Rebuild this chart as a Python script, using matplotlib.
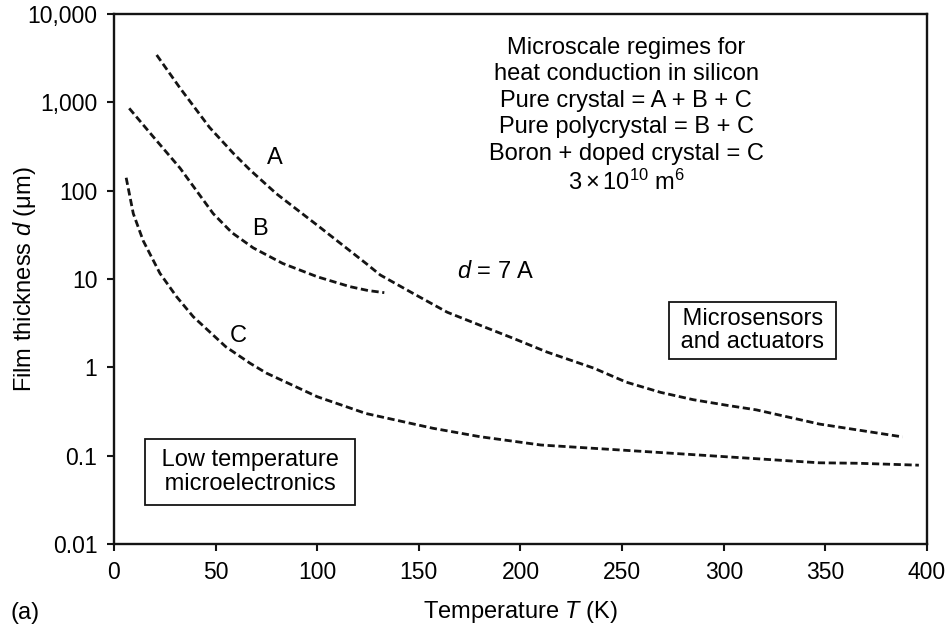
import matplotlib
matplotlib.use('Agg')
import matplotlib.pyplot as plt

plt.rcParams['font.family'] = ['Liberation Sans', 'DejaVu Sans']
plt.rcParams['mathtext.fontset'] = 'custom'
plt.rcParams['mathtext.rm'] = 'Liberation Sans'
plt.rcParams['mathtext.it'] = 'Liberation Sans:italic'

# curve A (pure crystal)
tA = [21, 32.5, 47, 58.7, 67, 80, 101, 124, 131, 147, 164, 180, 196, 213, 236, 252, 269, 285, 302, 316, 347, 388]
dA = [3435, 1450, 520, 265, 171, 92, 39, 15, 11.1, 6.9, 4.2, 3.0, 2.15, 1.49, 0.98, 0.68, 0.52, 0.43, 0.37, 0.33, 0.228, 0.163]

# curve B (pure polycrystal)
tB = [7.5, 19.3, 32.5, 48.8, 58, 68.5, 83, 100, 116, 125, 133]
dB = [855, 408, 180, 55, 33.5, 22.5, 15, 10.6, 8.2, 7.4, 7.0]

# curve C (boron doped crystal)
tC = [6, 9.5, 14.4, 22.6, 30.8, 39, 47, 55, 67, 75, 100, 124, 157, 180, 210, 262, 314, 347, 366, 396]
dC = [140, 55, 27, 11.6, 6.3, 3.74, 2.53, 1.71, 1.11, 0.86, 0.465, 0.30, 0.204, 0.164, 0.132, 0.111, 0.093, 0.083, 0.082, 0.078]

yticks = [0.01, 0.1, 1, 10, 100, 1000, 10000]
yticklabels = ['0.01', '0.1', '1', '10', '100', '1,000', '10,000']
xticks = [0, 50, 100, 150, 200, 250, 300, 350, 400]

fig = plt.figure(figsize=(9.53, 6.27), dpi=100)
ax = fig.add_axes([0.1196, 0.1324, 0.8531, 0.8453])

ink = '#141414'
for t, d in [(tA, dA), (tB, dB), (tC, dC)]:
    ax.plot(t, d, color=ink, lw=2.0, dashes=(2.6, 1.3))

ax.set_yscale('log')
ax.set_xlim(0, 400)
ax.set_ylim(0.01, 10000)
ax.set_yticks(yticks)
ax.set_yticklabels(yticklabels)
ax.minorticks_off()
ax.set_xticks(xticks)
ax.tick_params(direction='out', length=5, width=1.5, labelsize=16.5, pad=7, color=ink)
for s in ax.spines.values():
    s.set_linewidth(1.7)
    s.set_color(ink)

ax.set_xlabel('Temperature $T$ (K)', fontsize=17)
ax.set_ylabel('Film thickness $d$ (μm)', fontsize=17)
ax.xaxis.set_label_coords(0.5, -0.104)
ax.yaxis.set_label_coords(-0.093, 0.5)

# curve labels
ax.text(79, 234, 'A', fontsize=17, ha='center', va='center')
ax.text(72, 37, 'B', fontsize=17, ha='center', va='center')
ax.text(61, 2.26, 'C', fontsize=17, ha='center', va='center')
ax.text(168.7, 12, '$d$ = 7 A', fontsize=17, ha='left', va='center')

ax.text(252, 700, 'Microscale regimes for\nheat conduction in silicon\nPure crystal = A + B + C\n'
        'Pure polycrystal = B + C\nBoron + doped crystal = C\n$3\\times10^{10}\\ \\mathrm{m}^{6}$',
        fontsize=17, ha='center', va='center', linespacing=1.26)

box = dict(boxstyle='square,pad=0.42', fc='white', ec=ink, lw=1.3)
ax.text(66.9, 0.0653, ' Low temperature \n microelectronics ', fontsize=17,
        ha='center', va='center', bbox=box, linespacing=1.1)
box2 = dict(boxstyle='square,pad=0.22', fc='white', ec=ink, lw=1.3)
ax.text(314.3, 2.61, ' Microsensors \n and actuators ', fontsize=17,
        ha='center', va='center', bbox=box2, linespacing=1.1)

fig.text(0.0105, 0.022, '(a)', fontsize=17, ha='left', va='center')

fig.savefig('out.png', dpi=100)
